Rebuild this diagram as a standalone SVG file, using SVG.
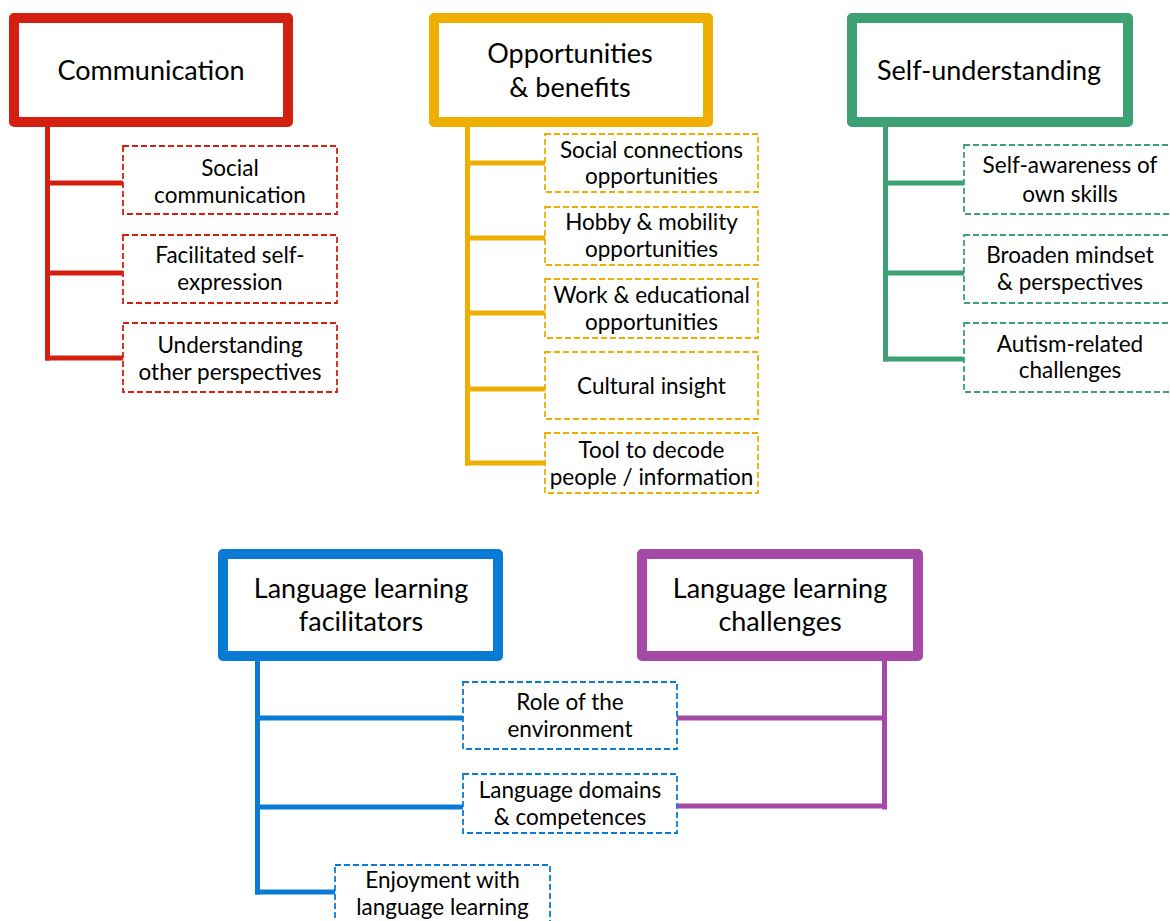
<svg xmlns="http://www.w3.org/2000/svg" width="1170" height="921" viewBox="0 0 1170 921">
<style>
.head{fill:#fff;stroke-width:10;stroke-linejoin:round}
.child{fill:#fff;stroke-width:1.8;stroke-dasharray:6 3}
.ht{font-family:Lato,"Liberation Sans",sans-serif;font-size:27px;fill:#000;text-anchor:middle}
.ct{font-family:Lato,"Liberation Sans",sans-serif;font-size:22.5px;fill:#000;text-anchor:middle}
.conn line{stroke-width:5;stroke-linecap:square}
.red{stroke:#D42011}.yel{stroke:#EFAF00}.grn{stroke:#3DA174}.blu{stroke:#0A7BD5}.pur{stroke:#A54AA7}
</style>
<rect width="1170" height="921" fill="#fff"/>
<g id="connectors" class="conn">
<g class="red"><line x1="47.5" y1="127" x2="47.5" y2="358"/><line x1="47.5" y1="183" x2="122" y2="183"/><line x1="47.5" y1="273" x2="122" y2="273"/><line x1="47.5" y1="358" x2="122" y2="358"/></g>
<g class="yel"><line x1="467.5" y1="127" x2="467.5" y2="463"/><line x1="467.5" y1="163" x2="543" y2="163"/><line x1="467.5" y1="238" x2="543" y2="238"/><line x1="467.5" y1="313" x2="543" y2="313"/><line x1="467.5" y1="389" x2="543" y2="389"/><line x1="467.5" y1="463" x2="543" y2="463"/></g>
<g class="grn"><line x1="885.5" y1="127" x2="885.5" y2="359"/><line x1="885.5" y1="183" x2="962" y2="183"/><line x1="885.5" y1="273" x2="962" y2="273"/><line x1="885.5" y1="359" x2="962" y2="359"/></g>
<g class="blu"><line x1="257.5" y1="661" x2="257.5" y2="892"/><line x1="257.5" y1="718" x2="461" y2="718"/><line x1="257.5" y1="807" x2="461" y2="807"/><line x1="257.5" y1="892" x2="333" y2="892"/></g>
<g class="pur"><line x1="884.5" y1="661" x2="884.5" y2="807"/><line x1="679" y1="718" x2="884.5" y2="718"/><line x1="679" y1="806" x2="884.5" y2="806"/></g>
</g>
<g id="communication">
<rect class="head red" x="14" y="18" width="274" height="104"/>
<text class="ht" x="151" y="80">Communication</text>
</g>
<g id="opportunities">
<rect class="head yel" x="434" y="18" width="274" height="104"/>
<text class="ht" x="570" y="63">Opportunities</text>
<text class="ht" x="570" y="97">&amp; benefits</text>
</g>
<g id="self-understanding">
<rect class="head grn" x="852" y="18" width="276" height="104"/>
<text class="ht" x="989" y="80">Self-understanding</text>
</g>
<g id="facilitators">
<rect class="head blu" x="223" y="554" width="275" height="102"/>
<text class="ht" x="361" y="598">Language learning</text>
<text class="ht" x="361" y="631">facilitators</text>
</g>
<g id="challenges">
<rect class="head pur" x="642" y="554" width="276" height="102"/>
<text class="ht" x="780" y="598">Language learning</text>
<text class="ht" x="780" y="631">challenges</text>
</g>
<g id="social-communication">
<rect class="child red" x="123" y="146" width="214" height="68"/>
<text class="ct" x="230" y="176">Social</text>
<text class="ct" x="230" y="203">communication</text>
</g>
<g id="facilitated-self-expression">
<rect class="child red" x="123" y="235" width="214" height="68"/>
<text class="ct" x="230" y="263">Facilitated self-</text>
<text class="ct" x="230" y="290">expression</text>
</g>
<g id="understanding-other-perspectives">
<rect class="child red" x="123" y="323" width="214" height="69"/>
<text class="ct" x="230" y="353">Understanding</text>
<text class="ct" x="230" y="380">other perspectives</text>
</g>
<g id="social-connections">
<rect class="child yel" x="545" y="134" width="213" height="58"/>
<text class="ct" x="651.5" y="158">Social connections</text>
<text class="ct" x="651.5" y="184">opportunities</text>
</g>
<g id="hobby-mobility">
<rect class="child yel" x="545" y="207" width="213" height="58"/>
<text class="ct" x="651.5" y="230">Hobby &amp; mobility</text>
<text class="ct" x="651.5" y="257">opportunities</text>
</g>
<g id="work-educational">
<rect class="child yel" x="545" y="279" width="213" height="59"/>
<text class="ct" x="651.5" y="303">Work &amp; educational</text>
<text class="ct" x="651.5" y="330">opportunities</text>
</g>
<g id="cultural-insight">
<rect class="child yel" x="545" y="352" width="213" height="67"/>
<text class="ct" x="651.5" y="394">Cultural insight</text>
</g>
<g id="tool-to-decode">
<rect class="child yel" x="545" y="433" width="213" height="60"/>
<text class="ct" x="651.5" y="458">Tool to decode</text>
<text class="ct" x="651.5" y="485">people / information</text>
</g>
<g id="self-awareness">
<rect class="child grn" x="964" y="145" width="212" height="69"/>
<text class="ct" x="1070" y="173">Self-awareness of</text>
<text class="ct" x="1070" y="202">own skills</text>
</g>
<g id="broaden-mindset">
<rect class="child grn" x="964" y="235" width="212" height="68"/>
<text class="ct" x="1070" y="263">Broaden mindset</text>
<text class="ct" x="1070" y="290">&amp; perspectives</text>
</g>
<g id="autism-related">
<rect class="child grn" x="964" y="323" width="212" height="69"/>
<text class="ct" x="1070" y="352">Autism-related</text>
<text class="ct" x="1070" y="378">challenges</text>
</g>
<g id="role-of-environment">
<rect class="child blu" x="463" y="682" width="214" height="67"/>
<text class="ct" x="570" y="710">Role of the</text>
<text class="ct" x="570" y="737">environment</text>
</g>
<g id="language-domains">
<rect class="child blu" x="463" y="774" width="214" height="59"/>
<text class="ct" x="570" y="798">Language domains</text>
<text class="ct" x="570" y="825">&amp; competences</text>
</g>
<g id="enjoyment">
<rect class="child blu" x="335" y="865" width="215" height="68"/>
<text class="ct" x="442.5" y="888">Enjoyment with</text>
<text class="ct" x="442.5" y="915">language learning</text>
</g>
</svg>
